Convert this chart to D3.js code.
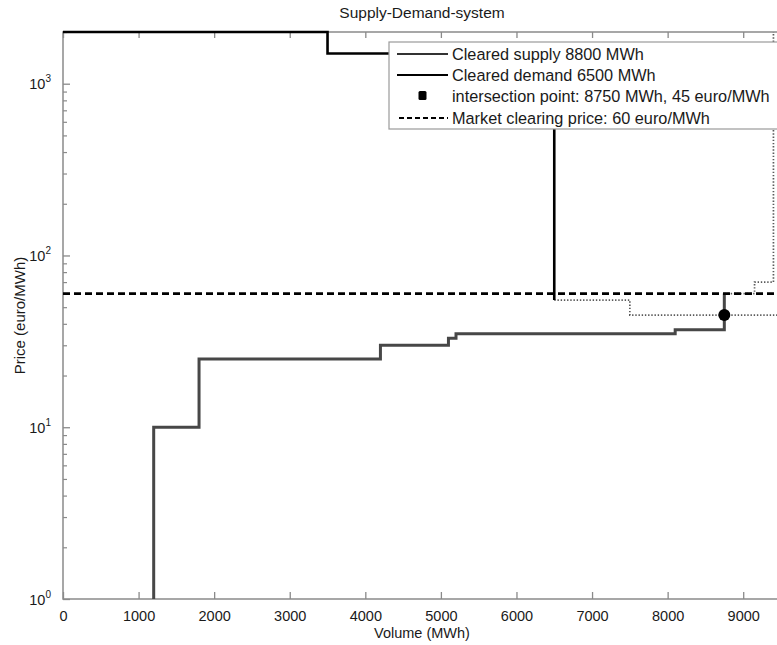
<!DOCTYPE html>
<html>
<head>
<meta charset="utf-8">
<script src="https://cdn.jsdelivr.net/npm/d3@7"></script>
<style>
  html, body { margin: 0; padding: 0; background: #fff; }
  svg { display: block; font-family: "Liberation Sans", Arial, Helvetica, sans-serif; }
</style>
</head>
<body>
<svg id="chart" width="777" height="645"></svg>
<script>
// Step curves: each point marks the volume where a new price level begins.
const supplyVolume = [1200, 1200, 1800, 4200, 5100, 5200, 8100, 8750];
const supplyPrice  = [1, 10, 25, 30, 33, 35, 37, 60];

const demandVolume = [0, 3500, 6500];
const demandPrice  = [2000, 1500, 55];

// Uncleared parts of the bid curves
const demandRestVolume = [6500, 7500, 9500];
const demandRestPrice  = [55, 45, 45];
const supplyRestVolume = [8750, 9150, 9400];
const supplyRestPrice  = [60, 70, 2000];

const clearingPrice = 60;
const intersection = { volume: 8750, price: 45 };

const xTicks = [0, 1000, 2000, 3000, 4000, 5000, 6000, 7000, 8000, 9000];
const yDecades = [1, 10, 100, 1000];

const legendLabels = [
  "Cleared supply 8800 MWh",
  "Cleared demand 6500 MWh",
  "intersection point: 8750 MWh, 45 euro/MWh",
  "Market clearing price: 60 euro/MWh"
];

const svg = d3.select("#chart");
const plotLeft = 63, plotTop = 32, plotBottom = 599, plotRight = 781;

const x = d3.scaleLinear().domain([0, 9500]).range([plotLeft, plotRight]);
const y = d3.scaleLog().domain([1, 2000]).range([plotBottom, plotTop]);

const frameColor = "#8a8a8a";
const textColor = "#1a1a1a";

svg.append("defs").append("clipPath").attr("id", "plot")
  .append("rect").attr("x", plotLeft).attr("y", plotTop - 2)
  .attr("width", plotRight - plotLeft).attr("height", plotBottom - plotTop + 4);

// Frame
svg.append("rect").attr("x", plotLeft).attr("y", plotTop)
  .attr("width", plotRight - plotLeft).attr("height", plotBottom - plotTop)
  .attr("fill", "none").attr("stroke", frameColor).attr("stroke-width", 1.5);

// Bottom axis: ticks point inward
const xAxis = d3.axisBottom(x).tickValues(xTicks).tickFormat(d3.format("d"))
  .tickSizeInner(-7).tickSizeOuter(0).tickPadding(12);
const gx = svg.append("g").attr("transform", `translate(0,${plotBottom})`).call(xAxis);
gx.select(".domain").remove();
gx.selectAll(".tick line").attr("stroke", frameColor).attr("stroke-width", 1.3);
gx.selectAll(".tick text").attr("font-size", 14.5).attr("fill", textColor)
  .attr("font-family", "'Liberation Sans', Arial, sans-serif");

// Top frame ticks
const gxt = svg.append("g").attr("transform", `translate(0,${plotTop})`)
  .call(d3.axisTop(x).tickValues(xTicks).tickSizeInner(-6).tickSizeOuter(0).tickFormat(""));
gxt.select(".domain").remove();
gxt.selectAll(".tick line").attr("stroke", frameColor).attr("stroke-width", 1.3);

// Left axis: decade ticks plus minor ticks
const minorTicks = [];
yDecades.forEach(d => { for (let k = 2; k <= 9; k++) { if (d * k <= 2000) minorTicks.push(d * k); } });
const gyMinor = svg.append("g").attr("transform", `translate(${plotLeft},0)`)
  .call(d3.axisLeft(y).tickValues(minorTicks).tickSizeInner(-4).tickSizeOuter(0).tickFormat(""));
gyMinor.select(".domain").remove();
gyMinor.selectAll(".tick line").attr("stroke", frameColor).attr("stroke-width", 1.2);

const gy = svg.append("g").attr("transform", `translate(${plotLeft},0)`)
  .call(d3.axisLeft(y).tickValues(yDecades).tickSizeInner(-7).tickSizeOuter(0).tickFormat(""));
gy.select(".domain").remove();
gy.selectAll(".tick line").attr("stroke", frameColor).attr("stroke-width", 1.3);

// Decade labels as 10 with a superscript exponent
gy.selectAll(".tick").each(function (d) {
  const t = d3.select(this).append("text")
    .attr("x", -12).attr("y", 5).attr("text-anchor", "end")
    .attr("fill", textColor).attr("font-size", 14.5);
  t.append("tspan").text("10");
  t.append("tspan").attr("dy", -7).attr("font-size", 10).text(Math.round(Math.log10(d)));
});

// Titles
svg.append("text").attr("x", (plotLeft + plotRight) / 2).attr("y", 18).attr("text-anchor", "middle")
  .attr("font-size", 15.5).attr("fill", textColor).text("Supply-Demand-system");
svg.append("text").attr("x", (plotLeft + plotRight) / 2).attr("y", 638).attr("text-anchor", "middle")
  .attr("font-size", 14.5).attr("fill", textColor).text("Volume (MWh)");
svg.append("text").attr("transform", `translate(25,${(plotTop + plotBottom) / 2}) rotate(-90)`)
  .attr("text-anchor", "middle").attr("font-size", 15).attr("fill", textColor)
  .text("Price (euro/MWh)");

const plot = svg.append("g").attr("clip-path", "url(#plot)");
const step = d3.line().x(d => x(d[0])).y(d => y(d[1])).curve(d3.curveStepAfter);
const zipPts = (a, b) => a.map((v, i) => [v, b[i]]);

// Uncleared bids (dotted)
plot.append("path").attr("d", step(zipPts(demandRestVolume, demandRestPrice)))
  .attr("fill", "none").attr("stroke", "#5a5a5a").attr("stroke-width", 1.7)
  .attr("stroke-dasharray", "1.4,1.8");
plot.append("path").attr("d", step(zipPts(supplyRestVolume, supplyRestPrice)))
  .attr("fill", "none").attr("stroke", "#5a5a5a").attr("stroke-width", 1.7)
  .attr("stroke-dasharray", "1.4,1.8");

// Supply curve
plot.append("path").attr("d", step(zipPts(supplyVolume, supplyPrice)))
  .attr("fill", "none").attr("stroke", "#474747").attr("stroke-width", 3);

// Demand curve
plot.append("path").attr("d", step(zipPts(demandVolume, demandPrice)))
  .attr("fill", "none").attr("stroke", "#000").attr("stroke-width", 2.6);

// Market clearing price
plot.append("line").attr("x1", x(0)).attr("x2", x(9500))
  .attr("y1", y(clearingPrice)).attr("y2", y(clearingPrice))
  .attr("stroke", "#000").attr("stroke-width", 2.6).attr("stroke-dasharray", "7,4");

// Intersection point
plot.append("circle").attr("cx", x(intersection.volume)).attr("cy", y(intersection.price))
  .attr("r", 6).attr("fill", "#000");

// Legend
const lg = svg.append("g");
lg.append("rect").attr("x", 389).attr("y", 42).attr("width", 400).attr("height", 87)
  .attr("fill", "#fff").attr("stroke", "#9a9a9a").attr("stroke-width", 1.2);
const rowY = [54, 75, 96, 118];
const sx0 = 397, sx1 = 448;
lg.append("line").attr("x1", sx0).attr("x2", sx1).attr("y1", rowY[0]).attr("y2", rowY[0])
  .attr("stroke", "#333").attr("stroke-width", 1.8);
lg.append("line").attr("x1", sx0).attr("x2", sx1).attr("y1", rowY[1]).attr("y2", rowY[1])
  .attr("stroke", "#000").attr("stroke-width", 2.2);
lg.append("rect").attr("x", (sx0 + sx1) / 2 - 4).attr("y", rowY[2] - 5).attr("width", 8).attr("height", 9)
  .attr("rx", 1.5).attr("fill", "#000");
lg.append("line").attr("x1", sx0 + 2).attr("x2", sx1).attr("y1", rowY[3]).attr("y2", rowY[3])
  .attr("stroke", "#000").attr("stroke-width", 2.2).attr("stroke-dasharray", "5,3");
lg.selectAll("text.lab").data(legendLabels).join("text").attr("class", "lab")
  .attr("x", 452).attr("y", (d, i) => rowY[i] + 6)
  .attr("font-size", 16.3).attr("fill", textColor).text(d => d);
</script>
</body>
</html>
